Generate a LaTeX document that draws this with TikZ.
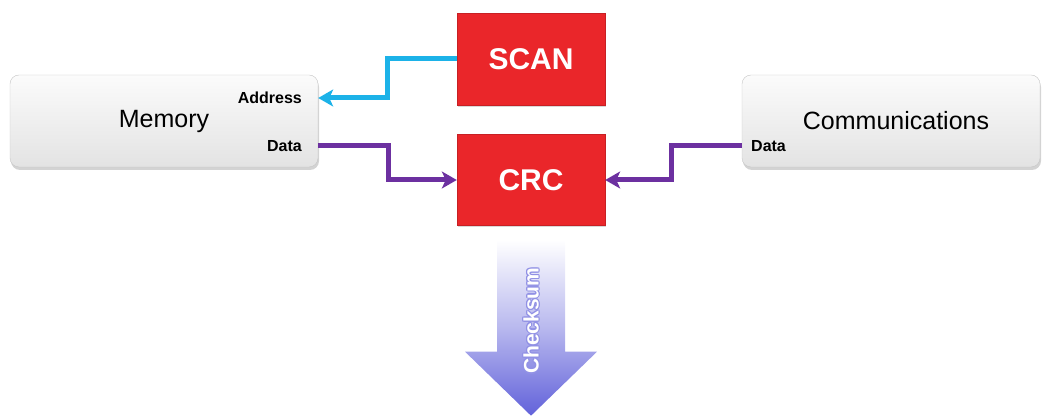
\documentclass[tikz,border=0pt]{standalone}
\usepackage{fontspec}
\setmainfont{Liberation Sans}
\usetikzlibrary{arrows.meta, positioning, shadows, calc}
\definecolor{boxred}{RGB}{234,38,42}
\definecolor{addrblue}{RGB}{28,178,232}
\definecolor{datapurple}{RGB}{108,48,160}
\definecolor{chkblue}{RGB}{98,98,218}

\begin{document}
\begin{tikzpicture}[x=1pt, y=-1pt, >={Stealth[length=15pt,width=17pt,inset=4pt]},
  unitbox/.style={rectangle, rounded corners=9pt, draw=gray!45, top color=gray!3, bottom color=gray!22,
    minimum width=300pt, minimum height=92pt, font=\fontsize{25}{30}\selectfont,
    drop shadow={opacity=0.35, shadow xshift=1pt, shadow yshift=-3pt}},
  redbox/.style={rectangle, fill=boxred, draw=boxred!85!black, minimum width=148pt, minimum height=92pt,
    text=white, font=\bfseries\fontsize{30}{34}\selectfont,
    drop shadow={opacity=0.3, shadow xshift=1pt, shadow yshift=-2pt}},
  port/.style={font=\bfseries\fontsize{16}{18}\selectfont, inner sep=1pt},
  addrline/.style={addrblue, line width=5pt, ->},
  dataline/.style={datapurple, line width=5pt, ->}]
\useasboundingbox (0,0) rectangle (1043,419);

\node[unitbox, minimum width=308pt] (mem) at (164,121) {Memory};
\node[port, anchor=east] (memaddr) at (303,98) {Address};
\node[port, anchor=east] (memdata) at (303,146) {Data};

\node[unitbox, minimum width=298pt] (comm) at (891,121) {\hspace*{10pt}Communications};
\node[port, anchor=west] (commdata) at (750,146) {Data};

\node[redbox] (scan) at (531,59) {SCAN};
\node[redbox, minimum height=91pt] (crc) at (531,180) {CRC};

% connectors
\draw[addrline] (scan.west) -- ++(-69,0) |- (mem.east |- memaddr);
\draw[dataline] (mem.east |- memdata) -- ++(70,0) |- (crc.west);
\draw[dataline] (comm.west |- commdata) -- ++(-70,0) |- (crc.east);

% checksum output
\coordinate (chktop) at ($(crc.south)+(0,14)$);
\shade[top color=white, bottom color=chkblue, middle color=chkblue!45]
  ($(chktop)+(-34,0)$) -- ($(chktop)+(34,0)$) -- ($(chktop)+(34,112)$) -- ($(chktop)+(66,112)$)
  -- ($(chktop)+(0,176)$) -- ($(chktop)+(-66,112)$) -- ($(chktop)+(-34,112)$) -- cycle;
\foreach \a in {0,45,...,315}
  \node[rotate=90, text=chkblue!70, font=\bfseries\fontsize{21}{24}\selectfont]
    at ($(chktop)+(0,81)+(\a:1.2)$) {Checksum};
\node[rotate=90, text=white, font=\bfseries\fontsize{21}{24}\selectfont] (chk) at ($(chktop)+(0,81)$) {Checksum};
\end{tikzpicture}
\end{document}
